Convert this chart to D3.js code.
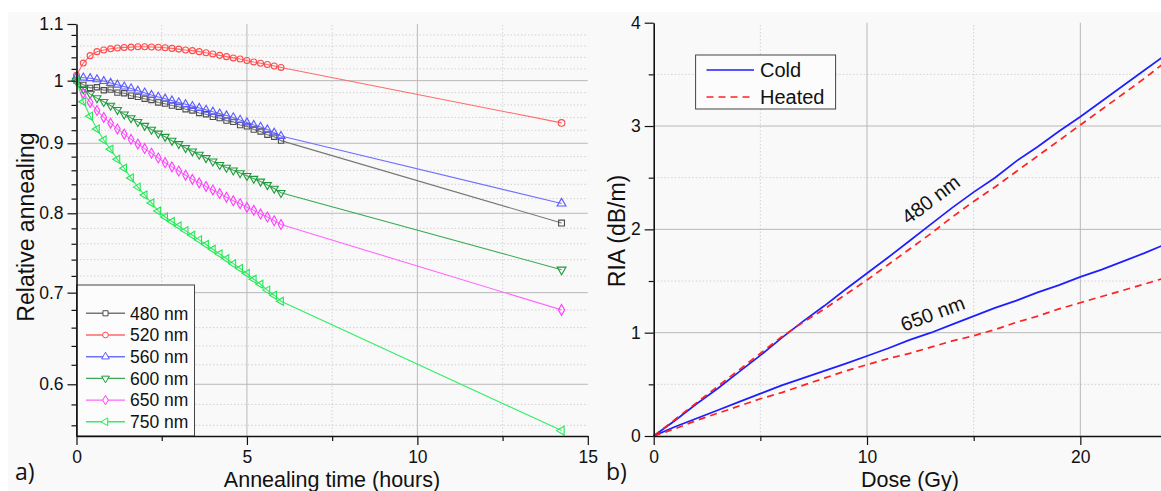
<!DOCTYPE html>
<html>
<head>
<meta charset="utf-8">
<title>Relative annealing and RIA</title>
<script src="https://d3js.org/d3.v7.min.js"></script>
<style>
  html, body { margin: 0; padding: 0; background: #ffffff; }
  svg { display: block; }
</style>
</head>
<body>
<div id="chart"></div>
<script>
// ---- data: panel a) relative annealing vs annealing time (hours)
const hours = [0, 0.2, 0.4, 0.6, 0.8, 1.0, 1.2, 1.4, 1.6, 1.8, 2.0, 2.2, 2.4, 2.6, 2.8, 3.0,
  3.2, 3.4, 3.6, 3.8, 4.0, 4.2, 4.4, 4.6, 4.8, 5.0, 5.2, 5.4, 5.6, 5.8, 6.0, 14.23];
const wavelengths = ["480 nm", "520 nm", "560 nm", "600 nm", "650 nm", "750 nm"];
const ann480 = [1.000, 0.993, 0.988, 0.989, 0.984, 0.985, 0.980, 0.979, 0.975, 0.973, 0.970, 0.968,
  0.964, 0.962, 0.959, 0.957, 0.953, 0.951, 0.947, 0.945, 0.941, 0.939, 0.935, 0.933, 0.928, 0.926,
  0.921, 0.918, 0.913, 0.910, 0.904, 0.787];
const ann520 = [1.009, 1.030, 1.043, 1.050, 1.053, 1.055, 1.0565, 1.0575, 1.058, 1.0588, 1.0588,
  1.0583, 1.0577, 1.057, 1.0558, 1.0545, 1.053, 1.0518, 1.050, 1.048, 1.046, 1.0435, 1.0412, 1.039,
  1.037, 1.0345, 1.032, 1.0298, 1.0275, 1.025, 1.0225, 0.9314];
const ann560 = [1.006, 1.005, 1.004, 1.002, 0.999, 0.996, 0.993, 0.990, 0.987, 0.983, 0.980, 0.976,
  0.973, 0.970, 0.967, 0.964, 0.961, 0.958, 0.955, 0.952, 0.949, 0.946, 0.943, 0.940, 0.936, 0.932,
  0.928, 0.925, 0.921, 0.916, 0.911, 0.8133];
const ann600 = [1.000, 0.986, 0.978, 0.971, 0.965, 0.959, 0.952, 0.945, 0.939, 0.933, 0.927, 0.921,
  0.915, 0.910, 0.904, 0.899, 0.893, 0.888, 0.883, 0.878, 0.873, 0.868, 0.864, 0.860, 0.856, 0.852,
  0.848, 0.844, 0.839, 0.834, 0.828, 0.7276];
const ann650 = [1.000, 0.979, 0.964, 0.951, 0.940, 0.931, 0.922, 0.914, 0.906, 0.899, 0.892, 0.885,
  0.878, 0.871, 0.865, 0.859, 0.853, 0.847, 0.842, 0.837, 0.832, 0.827, 0.822, 0.817, 0.813, 0.808,
  0.804, 0.799, 0.795, 0.790, 0.785, 0.680];
const ann750 = [1.000, 0.965, 0.942, 0.922, 0.905, 0.891, 0.876, 0.863, 0.849, 0.836, 0.825, 0.814,
  0.803, 0.795, 0.789, 0.783, 0.777, 0.771, 0.765, 0.759, 0.753, 0.747, 0.741, 0.735, 0.729, 0.723,
  0.716, 0.710, 0.703, 0.697, 0.690, 0.555];

// ---- data: panel b) RIA vs dose (Gy)
const dose = [0, 1, 2, 3, 4, 5, 6, 7, 8, 9, 10, 11, 12, 13, 14, 15, 16, 17, 18, 19, 20, 21, 22, 23, 23.8];
const cold480 = [0, 0.15, 0.31, 0.46, 0.62, 0.78, 0.95, 1.11, 1.26, 1.42, 1.575, 1.73, 1.89, 2.05,
  2.21, 2.36, 2.50, 2.66, 2.80, 2.95, 3.09, 3.24, 3.39, 3.54, 3.66];
const heated480 = [0, 0.16, 0.32, 0.48, 0.64, 0.80, 0.96, 1.10, 1.23, 1.37, 1.51, 1.66, 1.81, 1.96,
  2.12, 2.27, 2.41, 2.56, 2.71, 2.86, 3.01, 3.16, 3.31, 3.46, 3.59];
const cold650 = [0, 0.09, 0.17, 0.25, 0.33, 0.41, 0.49, 0.56, 0.63, 0.70, 0.774, 0.85, 0.93, 1.00,
  1.08, 1.16, 1.24, 1.31, 1.39, 1.46, 1.54, 1.61, 1.69, 1.77, 1.84];
const heated650 = [0, 0.07, 0.15, 0.22, 0.29, 0.36, 0.42, 0.49, 0.56, 0.63, 0.69, 0.75, 0.80, 0.86,
  0.92, 0.97, 1.03, 1.10, 1.16, 1.23, 1.29, 1.35, 1.41, 1.47, 1.52];

// ---- tick labels
const leftXTicks = [0, 5, 10, 15];
const leftXMinor = [2.5, 7.5, 12.5];
const leftYTicks = [0.6, 0.7, 0.8, 0.9, 1, 1.1];
const rightXTicks = [0, 10, 20];
const rightXMinor = [5, 15, 25];
const rightYTicks = [0, 1, 2, 3, 4];
const rightYMinor = [0.5, 1.5, 2.5, 3.5];

const width = 1161;
const height = 491;
const font = "'Liberation Sans', Arial, sans-serif";
const letterFont = "'Open Sans', 'DejaVu Sans', sans-serif";

const svg = d3.select("#chart").append("svg")
  .attr("width", width)
  .attr("height", height);

svg.append("rect")
  .attr("x", 8).attr("y", 12)
  .attr("width", width - 8).attr("height", height - 12)
  .attr("fill", "#f9f9f9");

// scales
const xL = d3.scaleLinear().domain([0, 15]).range([76.5, 587.8]);
const yL = d3.scaleLog().domain([0.55, 1.1]).range([436, 24]);
const xR = d3.scaleLinear().domain([0, 23.8]).range([653.7, 1161.4]);
const yR = d3.scaleLinear().domain([0, 4]).range([436, 22.7]);

// minor grid values for the log axis (every 0.02)
const leftYMinor = d3.range(56, 110, 2).map(v => v / 100)
  .filter(v => !leftYTicks.some(t => Math.abs(t - v) < 1e-6));

function grid(g, xs, ys, xVals, yVals, dotted) {
  const stroke = dotted ? "#d2d2d2" : "#b9b9b9";
  g.selectAll(null).data(xVals).enter().append("line")
    .attr("x1", d => xs(d)).attr("x2", d => xs(d))
    .attr("y1", ys.range()[0]).attr("y2", ys.range()[1])
    .attr("stroke", stroke).attr("stroke-width", 1)
    .attr("stroke-dasharray", dotted ? "1.5,2" : null);
  g.selectAll(null).data(yVals).enter().append("line")
    .attr("x1", xs.range()[0]).attr("x2", xs.range()[1])
    .attr("y1", d => ys(d)).attr("y2", d => ys(d))
    .attr("stroke", stroke).attr("stroke-width", 1)
    .attr("stroke-dasharray", dotted ? "1.5,2" : null);
}

// ---------- panel a)
const gA = svg.append("g");
grid(gA, xL, yL, leftXMinor, leftYMinor, true);
grid(gA, xL, yL, [5, 10], [0.6, 0.7, 0.8, 0.9, 1], false);

const colors = ["#4d4d4d", "#ff4a4a", "#5a5aff", "#1f9a3c", "#ff3cff", "#22e855"];
const lineColors = ["#777777", "#ff6a6a", "#7070ff", "#3aaa55", "#ff66ff", "#33ee66"];
const symbols = [
  { type: d3.symbolSquare, rot: 0 },
  { type: d3.symbolCircle, rot: 0 },
  { type: d3.symbolTriangle, rot: 0 },
  { type: d3.symbolTriangle, rot: 180 },
  { type: d3.symbolDiamond, rot: 0 },
  { type: d3.symbolTriangle, rot: -90 }
];
const seriesA = [ann480, ann520, ann560, ann600, ann650, ann750].map((vals, i) => ({
  name: wavelengths[i],
  color: colors[i],
  lineColor: lineColors[i],
  symbol: symbols[i],
  points: vals.map((v, j) => ({ t: hours[j], v: v }))
}));

const lineA = d3.line().x(d => xL(d.t)).y(d => yL(d.v));

seriesA.forEach(s => {
  gA.append("path")
    .datum(s.points)
    .attr("d", lineA)
    .attr("fill", "none")
    .attr("stroke", s.lineColor)
    .attr("stroke-width", 1.1);
});

seriesA.forEach(s => {
  const sym = d3.symbol().type(s.symbol.type);
  gA.selectAll(null)
    .data(s.points)
    .enter()
    .append("path")
    .attr("d", (d, i) => sym.size(i === s.points.length - 1 ? 34 : 28)())
    .attr("transform", d => `translate(${xL(d.t)},${yL(d.v)}) rotate(${s.symbol.rot})`)
    .attr("fill", "none")
    .attr("stroke", s.color)
    .attr("stroke-width", 1.1);
});

// legend a)
const legA = gA.append("g");
legA.append("rect")
  .attr("x", 76.5).attr("y", 285)
  .attr("width", 118).attr("height", 151)
  .attr("fill", "#fcfcfc")
  .attr("stroke", "#444").attr("stroke-width", 1);
seriesA.forEach((s, i) => {
  const y = 313.3 + i * 21.7;
  legA.append("line")
    .attr("x1", 86).attr("x2", 125).attr("y1", y).attr("y2", y)
    .attr("stroke", s.lineColor).attr("stroke-width", 1.4);
  legA.append("path")
    .attr("d", d3.symbol().type(s.symbol.type).size(26)())
    .attr("transform", `translate(105.5,${y}) rotate(${s.symbol.rot})`)
    .attr("fill", "#ffffff")
    .attr("stroke", s.color).attr("stroke-width", 1);
  legA.append("text")
    .attr("x", 130).attr("y", y).attr("dy", "0.36em")
    .attr("font-family", font).attr("font-size", 17.5)
    .attr("fill", "#111")
    .text(s.name);
});

// axes a)
function styleAxis(g) {
  g.attr("font-family", font).attr("font-size", 17.5);
  g.select(".domain").attr("stroke", "#111").attr("stroke-width", 1.6);
  g.selectAll(".tick line").attr("stroke", "#111").attr("stroke-width", 1.2);
  g.selectAll(".tick text").attr("fill", "#111");
}

gA.append("g")
  .attr("transform", `translate(0,436)`)
  .call(d3.axisBottom(xL).tickValues(leftXMinor).tickSize(5).tickSizeOuter(0).tickFormat(""))
  .call(g => { styleAxis(g); g.select(".domain").remove(); });
gA.append("g")
  .attr("transform", `translate(76.5,0)`)
  .call(d3.axisLeft(yL).tickValues(leftYMinor).tickSize(5).tickSizeOuter(0).tickFormat(""))
  .call(g => { styleAxis(g); g.select(".domain").remove(); });
gA.append("g")
  .attr("transform", `translate(0,436)`)
  .call(d3.axisBottom(xL).tickValues(leftXTicks).tickSize(9).tickSizeOuter(0).tickPadding(6).tickFormat(d => d))
  .call(styleAxis);
gA.append("g")
  .attr("transform", `translate(76.5,0)`)
  .call(d3.axisLeft(yL).tickValues(leftYTicks).tickSize(9).tickSizeOuter(0).tickPadding(4).tickFormat(d => String(d)))
  .call(styleAxis);

gA.append("text")
  .attr("x", 332).attr("y", 487)
  .attr("text-anchor", "middle")
  .attr("font-family", font).attr("font-size", 21.5)
  .attr("fill", "#111")
  .text("Annealing time (hours)");
gA.append("text")
  .attr("transform", "translate(33.5,227) rotate(-90)")
  .attr("text-anchor", "middle")
  .attr("font-family", font).attr("font-size", 23)
  .attr("fill", "#111")
  .text("Relative annealing");
gA.append("text")
  .attr("x", 15).attr("y", 480)
  .attr("font-family", letterFont).attr("font-size", 23)
  .attr("fill", "#111")
  .text("a)");

// ---------- panel b)
const gB = svg.append("g");
grid(gB, xR, yR, rightXMinor.filter(d => xR(d) < width), rightYMinor, true);
grid(gB, xR, yR, [10, 20], [1, 2, 3], false);

const seriesB = [
  { vals: cold480, color: "#1e1eff", dash: null },
  { vals: heated480, color: "#ff2222", dash: "7,5" },
  { vals: cold650, color: "#1e1eff", dash: null },
  { vals: heated650, color: "#ff2222", dash: "7,5" }
];
const lineB = d3.line().x(d => xR(d.d)).y(d => yR(d.v));
seriesB.forEach(s => {
  gB.append("path")
    .datum(s.vals.map((v, i) => ({ d: dose[i], v: v })))
    .attr("d", lineB)
    .attr("fill", "none")
    .attr("stroke", s.color)
    .attr("stroke-width", 1.7)
    .attr("stroke-dasharray", s.dash);
});

gB.append("g")
  .attr("transform", `translate(0,436)`)
  .call(d3.axisBottom(xR).tickValues(rightXMinor.filter(d => xR(d) < width)).tickSize(5).tickSizeOuter(0).tickFormat(""))
  .call(g => { styleAxis(g); g.select(".domain").remove(); });
gB.append("g")
  .attr("transform", `translate(653.7,0)`)
  .call(d3.axisLeft(yR).tickValues(rightYMinor).tickSize(5).tickSizeOuter(0).tickFormat(""))
  .call(g => { styleAxis(g); g.select(".domain").remove(); });
gB.append("g")
  .attr("transform", `translate(0,436)`)
  .call(d3.axisBottom(xR).tickValues(rightXTicks).tickSize(9).tickSizeOuter(0).tickPadding(6).tickFormat(d => d))
  .call(styleAxis);
gB.append("g")
  .attr("transform", `translate(653.7,0)`)
  .call(d3.axisLeft(yR).tickValues(rightYTicks).tickSize(9).tickSizeOuter(0).tickPadding(4).tickFormat(d => d))
  .call(styleAxis);

// annotations
gB.append("text")
  .attr("transform", "translate(935,205) rotate(-37)")
  .attr("text-anchor", "middle")
  .attr("font-family", font).attr("font-size", 20)
  .attr("fill", "#111")
  .text("480 nm");
gB.append("text")
  .attr("transform", "translate(935,320) rotate(-20.5)")
  .attr("text-anchor", "middle")
  .attr("font-family", font).attr("font-size", 20)
  .attr("fill", "#111")
  .text("650 nm");

// legend b)
const legB = gB.append("g");
legB.append("rect")
  .attr("x", 695.6).attr("y", 55)
  .attr("width", 140).attr("height", 54)
  .attr("fill", "#fcfcfc")
  .attr("stroke", "#444").attr("stroke-width", 1);
[["Cold", "#1e1eff", null], ["Heated", "#ff2222", "7,5"]].forEach((e, i) => {
  const y = 70 + i * 27;
  legB.append("line")
    .attr("x1", 706.5).attr("x2", 754).attr("y1", y).attr("y2", y)
    .attr("stroke", e[1]).attr("stroke-width", 1.7)
    .attr("stroke-dasharray", e[2]);
  legB.append("text")
    .attr("x", 760).attr("y", y).attr("dy", "0.36em")
    .attr("font-family", font).attr("font-size", 20)
    .attr("fill", "#111")
    .text(e[0]);
});

gB.append("text")
  .attr("x", 910).attr("y", 487)
  .attr("text-anchor", "middle")
  .attr("font-family", font).attr("font-size", 21.5)
  .attr("fill", "#111")
  .text("Dose (Gy)");
gB.append("text")
  .attr("transform", "translate(625,231) rotate(-90)")
  .attr("text-anchor", "middle")
  .attr("font-family", font).attr("font-size", 23)
  .attr("fill", "#111")
  .text("RIA (dB/m)");
gB.append("text")
  .attr("x", 606).attr("y", 480)
  .attr("font-family", letterFont).attr("font-size", 23)
  .attr("fill", "#111")
  .text("b)");
</script>
</body>
</html>
